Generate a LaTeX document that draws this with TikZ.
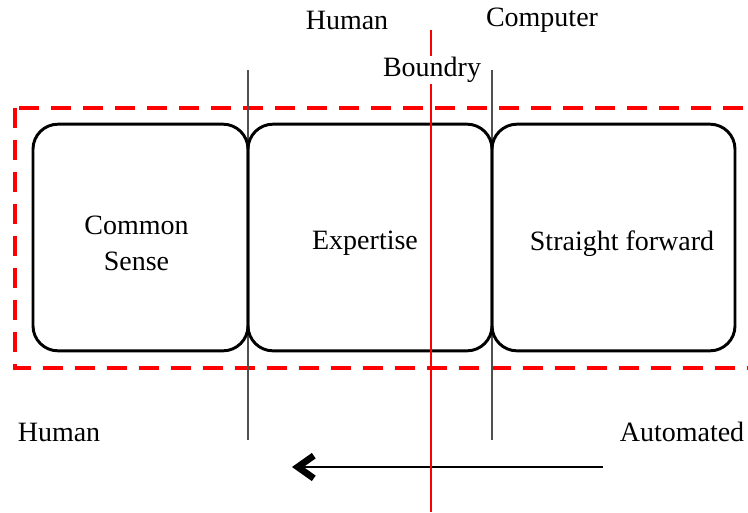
\documentclass[tikz,border=0pt]{standalone}
\usepackage{fontspec}
\setmainfont{Liberation Serif}
\usetikzlibrary{arrows.meta,positioning}

\begin{document}
\begin{tikzpicture}[x=0.75pt,y=0.75pt,yscale=-1,xscale=1,
    lbl/.style={inner sep=0.75pt, font=\fontsize{21}{27}\selectfont, align=center},
    stage/.style 2 args={draw, line width=2.2pt, rounded corners=18.75pt, minimum height=170pt,
        inner sep=0pt, outer sep=0pt, label={[lbl, xshift=#1, yshift=-4.5pt]center:#2}},
    divider/.style={draw={rgb,255:red,80;green,80;blue,80}, line width=0.9pt},
    frame/.style={draw=red, line width=3pt, dash pattern=on 15pt off 9pt}]
    \useasboundingbox (0,0) rectangle (748,512);
    %Shape: Rectangle (dashed frame)
    \draw[frame] (15,108) rectangle (775,368);
    %Straight Lines (dividers)
    \draw[divider] (248,70) -- (248,440);
    \draw[divider] (492,70) -- (492,440);

    % Stages
    \node[stage={-3pt}{Common\\Sense}, minimum width=161.25pt] (common) at (140.5,237.5) {};
    \node[stage={-3.75pt}{Expertise}, minimum width=183pt, right=0pt of common] (expertise) {};
    \node[stage={6.4pt}{Straight forward}, minimum width=182.25pt, right=0pt of expertise] (straight) {};

    % Text Node
    \node[lbl] (humantop) at (347,20) {Human};
    % Text Node
    \node[lbl] (computer) at (542,20) {Computer};
    % Text Node
    \node[lbl] (humanlow) at (59,432) {Human};
    % Text Node
    \node[lbl] (automated) at (682,432) {Automated};

    %Arrow
    \coordinate (arrstart) at (603,467);
    \coordinate (arrend) at (292,467);
    \draw[line width=1pt, -{Straight Barb[length=12pt,width=17pt,line width=5pt]}] (arrstart) -- (arrend);

    %Straight Lines (boundary)
    \draw[red, line width=2.2pt] (431,30) -- (431,512);
    % Text Node
    \node[lbl, fill=white] (boundry) at (432,70) {Boundry};
\end{tikzpicture}
\end{document}
